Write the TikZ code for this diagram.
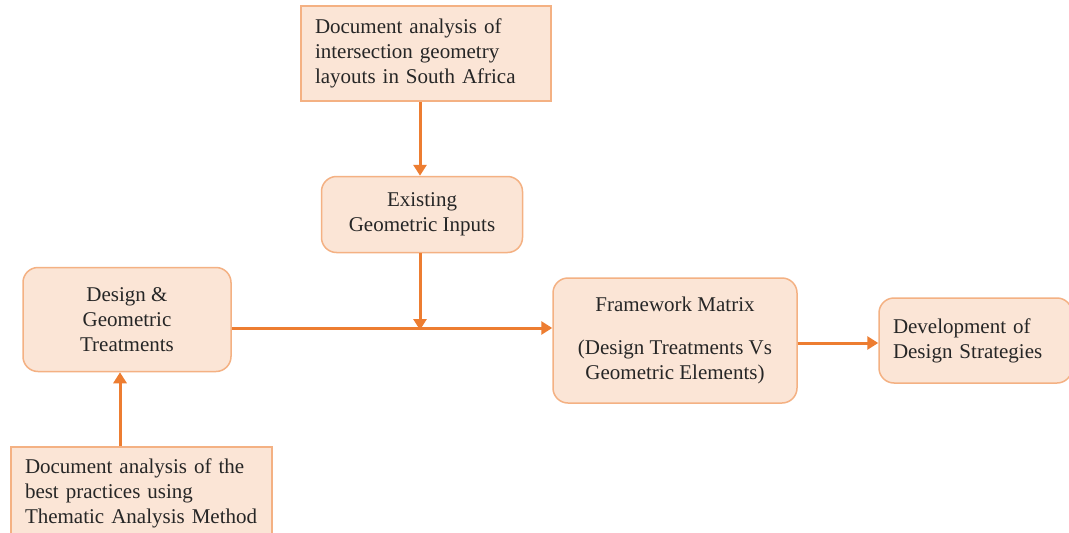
\documentclass[tikz,border=0pt]{standalone}
\usepackage{fontspec}
\setmainfont{Liberation Serif}
\usetikzlibrary{arrows.meta}
\definecolor{boxfill}{HTML}{FBE5D6}
\definecolor{boxline}{HTML}{F4B183}
\definecolor{flow}{HTML}{ED7D31}
\tikzset{
  plainbox/.style={draw=boxline, fill=boxfill, line width=1.5pt, rectangle,
    font=\fontsize{21pt}{25pt}\selectfont, text=black!85, inner sep=0pt},
  roundbox/.style={plainbox, rounded corners=15pt},
  flowarrow/.style={draw=flow, line width=3pt,
    -{Triangle[length=11pt,width=13pt]}}
}
\begin{document}
\begin{tikzpicture}[x=1pt,y=-1pt]
\clip (0,0) rectangle (1069,533);
\useasboundingbox (0,0) rectangle (1069,533);
\fill[white] (0,0) rectangle (1069,533);

% source documents
\node[plainbox, minimum width=250pt, minimum height=95pt,
  text width=222pt, align=left] (docsa) at (426,53.5)
  {Document analysis of\\intersection geometry\\layouts in South Africa};
\node[plainbox, minimum width=261pt, minimum height=92pt,
  text width=233pt, align=left] (docbp) at (141.5,493)
  {Document analysis of the\\best practices using\\Thematic Analysis Method};

% process steps
\node[roundbox, minimum width=201pt, minimum height=76pt, align=center]
  (inputs) at (422,214.5) {Existing\\Geometric Inputs};
\node[roundbox, minimum width=208pt, minimum height=104pt, align=center]
  (treat) at (127,319.5) {Design \&\\Geometric\\Treatments};
\node[roundbox, minimum width=244pt, minimum height=125pt, align=center]
  (matrix) at (675,340.5)
  {Framework Matrix\\[18pt](Design Treatments Vs\\Geometric Elements)};
\node[roundbox, minimum width=193pt, minimum height=85pt,
  text width=165pt, align=left] (strat) at (975.5,340.5)
  {Development of\\Design Strategies};

% junction points of the connectors
\coordinate (merge) at (420,328);
\coordinate (up) at (120,0);
\coordinate (side) at (0,343);

\draw[flowarrow] (docsa.south -| merge) -- (inputs.north -| merge);
\draw[flowarrow] (inputs.south -| merge) -- ([yshift=-2pt]merge);
\draw[flowarrow] (treat.east |- merge) -- (matrix.west |- merge);
\draw[flowarrow] (matrix.east |- side) -- (strat.west |- side);
\draw[flowarrow] (docbp.north -| up) -- (treat.south -| up);
\end{tikzpicture}
\end{document}
